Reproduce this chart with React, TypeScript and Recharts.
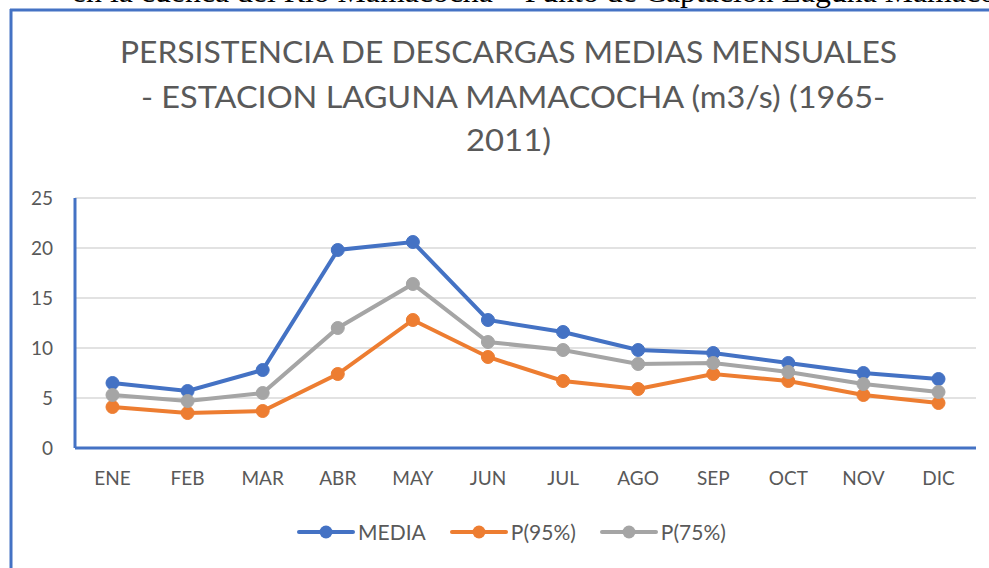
import React from 'react';
import { LineChart, Line, XAxis, YAxis, CartesianGrid, Legend } from 'recharts';

const months = ['ENE', 'FEB', 'MAR', 'ABR', 'MAY', 'JUN', 'JUL', 'AGO', 'SEP', 'OCT', 'NOV', 'DIC'];
const media = [6.5, 5.7, 7.8, 19.8, 20.6, 12.8, 11.6, 9.8, 9.5, 8.5, 7.5, 6.9];
const p95 = [4.1, 3.5, 3.7, 7.4, 12.8, 9.1, 6.7, 5.9, 7.4, 6.7, 5.3, 4.5];
const p75 = [5.3, 4.7, 5.5, 12.0, 16.4, 10.6, 9.8, 8.4, 8.5, 7.6, 6.4, 5.6];
const yTicks = [0, 5, 10, 15, 20, 25];

const titleLines = [
  'PERSISTENCIA DE DESCARGAS MEDIAS MENSUALES',
  '- ESTACION LAGUNA MAMACOCHA (m3/s) (1965-',
  '2011)',
];

const BLUE = '#4472C4';
const ORANGE = '#ED7D31';
const GRAY = '#A5A5A5';
const TEXT = '#595959';
const FONT = 'Lato, "Open Sans", sans-serif';

const series = [
  { key: 'media', name: 'MEDIA', color: BLUE },
  { key: 'p95', name: 'P(95%)', color: ORANGE },
  { key: 'p75', name: 'P(75%)', color: GRAY },
];

const data = months.map((m, i) => ({ month: m, media: media[i], p95: p95[i], p75: p75[i] }));

// legend drawn in series order (recharts sorts by name otherwise)
function LegendContent() {
  return (
    <div style={{ display: 'flex', justifyContent: 'center', fontFamily: FONT, fontSize: 21, color: TEXT }}>
      {series.map((s) => (
        <div key={s.key} style={{ display: 'flex', alignItems: 'center', margin: '0 12px' }}>
          <svg width={58} height={16} style={{ marginRight: 3 }}>
            <line x1={2} y1={8} x2={56} y2={8} stroke={s.color} strokeWidth={4} strokeLinecap="round" />
            <circle cx={29} cy={8} r={6.5} fill={s.color} />
          </svg>
          <span>{s.name}</span>
        </div>
      ))}
    </div>
  );
}

export default function App() {
  return (
    <div style={{ position: 'absolute', left: 0, top: 0, width: 989, height: 568, overflow: 'hidden', background: '#fff' }}>
      <svg width={989} height={568} style={{ position: 'absolute', left: 0, top: 0 }}>
        <text x={72} y={2} textLength={968} lengthAdjust="spacingAndGlyphs" fontFamily='"Liberation Serif", serif' fontSize={30} fill="#000">
          en la cuenca del Río Mamacocha – Punto de Captación Laguna Mamacocha
        </text>
        <line x1={10} y1={10} x2={989} y2={10} stroke={BLUE} strokeWidth={3} />
        <line x1={11} y1={9} x2={11} y2={568} stroke={BLUE} strokeWidth={3} />
        <text x={120} y={63} textLength={777} lengthAdjust="spacingAndGlyphs" fontFamily={FONT} fontSize={30} fill={TEXT}>
          {titleLines[0]}
        </text>
        <text x={141} y={108} textLength={744} lengthAdjust="spacingAndGlyphs" fontFamily={FONT} fontSize={30} fill={TEXT}>
          {titleLines[1]}
        </text>
        <text x={466} y={151} textLength={85} lengthAdjust="spacingAndGlyphs" fontFamily={FONT} fontSize={30} fill={TEXT}>
          {titleLines[2]}
        </text>
      </svg>
      <div style={{ position: 'absolute', left: 0, top: 0 }}>
        <LineChart width={989} height={568} data={data} margin={{ top: 198, right: 13, bottom: 80, left: 0 }}>
          <CartesianGrid vertical={false} stroke="#d9d9d9" strokeWidth={1.5} />
          <XAxis
            dataKey="month"
            height={40}
            padding={{ left: 37.5, right: 37.5 }}
            tickLine={false}
            tickSize={0}
            tickMargin={24}
            axisLine={{ stroke: BLUE, strokeWidth: 3 }}
            tick={{ fill: TEXT, fontSize: 19, fontFamily: FONT }}
          />
          <XAxis xAxisId="top" orientation="top" dataKey="month" height={0} padding={{ left: 37.5, right: 37.5 }} tick={false} tickLine={false} axisLine={{ stroke: BLUE, strokeWidth: 3 }} />
          <YAxis
            width={75}
            domain={[0, 25]}
            ticks={yTicks}
            tickLine={false}
            tickSize={0}
            tickMargin={22}
            axisLine={{ stroke: BLUE, strokeWidth: 3 }}
            tick={{ fill: TEXT, fontSize: 19, fontFamily: FONT }}
          />
          <YAxis yAxisId="right" orientation="right" width={0} domain={[0, 25]} tick={false} tickLine={false} axisLine={{ stroke: BLUE, strokeWidth: 3 }} />
          <Legend
            verticalAlign="middle"
            align="center"
            layout="horizontal"
            wrapperStyle={{ top: 519, left: 17, width: 989 }}
            content={<LegendContent />}
          />
          {series.map((s) => (
            <Line
              key={s.key}
              dataKey={s.key}
              name={s.name}
              stroke={s.color}
              strokeWidth={4}
              dot={{ r: 6.5, fill: s.color, stroke: s.color, strokeWidth: 1 }}
              isAnimationActive={false}
            />
          ))}
        </LineChart>
      </div>
    </div>
  );
}
